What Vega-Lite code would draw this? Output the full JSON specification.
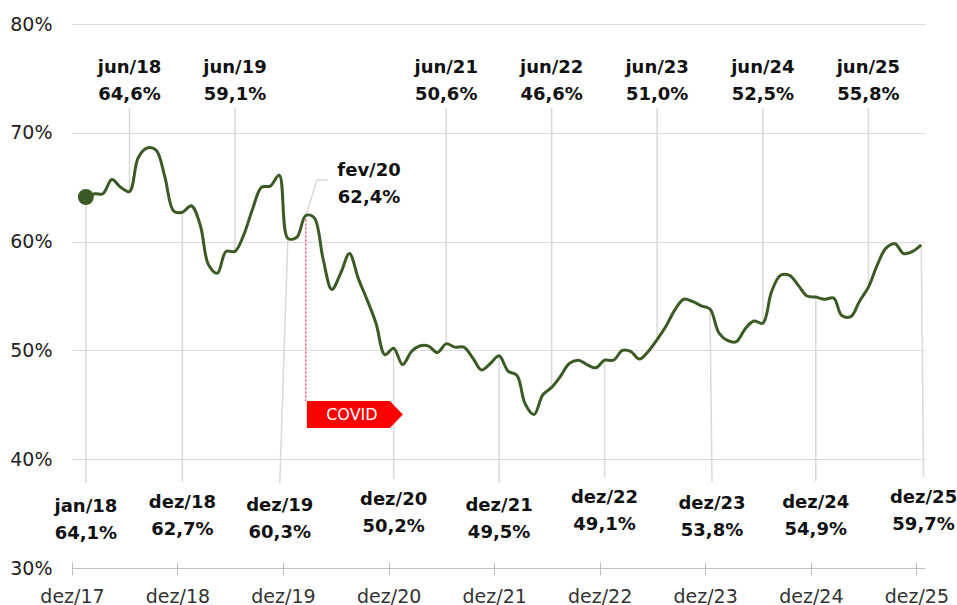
{
  "$schema": "https://vega.github.io/schema/vega-lite/v6.json",
  "width": 853,
  "height": 544,
  "autosize": {"type": "none"},
  "padding": {"left": 72, "top": 24, "right": 32, "bottom": 37},
  "background": "white",
  "config": {"view": {"stroke": null}, "font": "DejaVu Sans"},
  "datasets": {
    "series": [
      {"d": "2018-01-01", "v": 64.1}, {"d": "2018-02-01", "v": 64.4}, {"d": "2018-03-01", "v": 64.4}, {"d": "2018-04-01", "v": 65.7},
      {"d": "2018-05-01", "v": 65.0}, {"d": "2018-06-01", "v": 64.6}, {"d": "2018-07-01", "v": 67.7}, {"d": "2018-08-01", "v": 68.6},
      {"d": "2018-09-01", "v": 68.4}, {"d": "2018-10-01", "v": 66.0}, {"d": "2018-11-01", "v": 62.8}, {"d": "2018-12-01", "v": 62.7},
      {"d": "2019-01-01", "v": 63.3}, {"d": "2019-02-01", "v": 61.5}, {"d": "2019-03-01", "v": 57.9}, {"d": "2019-04-01", "v": 57.1},
      {"d": "2019-05-01", "v": 59.1}, {"d": "2019-06-01", "v": 59.1}, {"d": "2019-07-01", "v": 60.6}, {"d": "2019-08-01", "v": 63.0},
      {"d": "2019-09-01", "v": 65.0}, {"d": "2019-10-01", "v": 65.1}, {"d": "2019-11-01", "v": 66.1}, {"d": "2019-12-01", "v": 60.3},
      {"d": "2020-01-01", "v": 60.4}, {"d": "2020-02-01", "v": 62.4}, {"d": "2020-03-01", "v": 62.2}, {"d": "2020-04-01", "v": 58.4},
      {"d": "2020-05-01", "v": 55.6}, {"d": "2020-06-01", "v": 57.1}, {"d": "2020-07-01", "v": 58.9}, {"d": "2020-08-01", "v": 56.6},
      {"d": "2020-09-01", "v": 54.6}, {"d": "2020-10-01", "v": 52.5}, {"d": "2020-11-01", "v": 49.6}, {"d": "2020-12-01", "v": 50.2},
      {"d": "2021-01-01", "v": 48.7}, {"d": "2021-02-01", "v": 49.9}, {"d": "2021-03-01", "v": 50.4}, {"d": "2021-04-01", "v": 50.4},
      {"d": "2021-05-01", "v": 49.8}, {"d": "2021-06-01", "v": 50.6}, {"d": "2021-07-01", "v": 50.3}, {"d": "2021-08-01", "v": 50.3},
      {"d": "2021-09-01", "v": 49.3}, {"d": "2021-10-01", "v": 48.2}, {"d": "2021-11-01", "v": 48.8}, {"d": "2021-12-01", "v": 49.5},
      {"d": "2022-01-01", "v": 48.1}, {"d": "2022-02-01", "v": 47.7}, {"d": "2022-03-01", "v": 45.1}, {"d": "2022-04-01", "v": 44.1},
      {"d": "2022-05-01", "v": 45.9}, {"d": "2022-06-01", "v": 46.6}, {"d": "2022-07-01", "v": 47.6}, {"d": "2022-08-01", "v": 48.8},
      {"d": "2022-09-01", "v": 49.1}, {"d": "2022-10-01", "v": 48.7}, {"d": "2022-11-01", "v": 48.4}, {"d": "2022-12-01", "v": 49.1},
      {"d": "2023-01-01", "v": 49.1}, {"d": "2023-02-01", "v": 50.0}, {"d": "2023-03-01", "v": 49.9}, {"d": "2023-04-01", "v": 49.2},
      {"d": "2023-05-01", "v": 49.9}, {"d": "2023-06-01", "v": 51.0}, {"d": "2023-07-01", "v": 52.2}, {"d": "2023-08-01", "v": 53.7},
      {"d": "2023-09-01", "v": 54.7}, {"d": "2023-10-01", "v": 54.5}, {"d": "2023-11-01", "v": 54.1}, {"d": "2023-12-01", "v": 53.8},
      {"d": "2024-01-01", "v": 51.6}, {"d": "2024-02-01", "v": 50.9}, {"d": "2024-03-01", "v": 50.8}, {"d": "2024-04-01", "v": 52.0},
      {"d": "2024-05-01", "v": 52.7}, {"d": "2024-06-01", "v": 52.5}, {"d": "2024-07-01", "v": 55.4}, {"d": "2024-08-01", "v": 56.9},
      {"d": "2024-09-01", "v": 56.9}, {"d": "2024-10-01", "v": 56.0}, {"d": "2024-11-01", "v": 55.0}, {"d": "2024-12-01", "v": 54.9},
      {"d": "2025-01-01", "v": 54.7}, {"d": "2025-02-01", "v": 54.8}, {"d": "2025-03-01", "v": 53.2}, {"d": "2025-04-01", "v": 53.1},
      {"d": "2025-05-01", "v": 54.5}, {"d": "2025-06-01", "v": 55.8}, {"d": "2025-07-01", "v": 57.8}, {"d": "2025-08-01", "v": 59.4},
      {"d": "2025-09-01", "v": 59.8}, {"d": "2025-10-01", "v": 58.9}, {"d": "2025-11-01", "v": 59.1}, {"d": "2025-12-01", "v": 59.7}
    ],
    "leaders": [
      {"xa": "2018-06-01", "ya": 72.28, "xb": "2018-06-01", "yb": 64.6},
      {"xa": "2019-06-01", "ya": 72.28, "xb": "2019-06-01", "yb": 59.1},
      {"xa": "2021-06-01", "ya": 72.28, "xb": "2021-06-01", "yb": 50.6},
      {"xa": "2022-06-01", "ya": 72.28, "xb": "2022-06-01", "yb": 46.6},
      {"xa": "2023-06-01", "ya": 72.28, "xb": "2023-06-01", "yb": 51.0},
      {"xa": "2024-06-01", "ya": 72.28, "xb": "2024-06-01", "yb": 52.5},
      {"xa": "2025-06-01", "ya": 72.28, "xb": "2025-06-01", "yb": 55.8},
      {"xa": "2018-01-01", "ya": 64.1, "xb": "2018-01-01", "yb": 37.81},
      {"xa": "2018-12-01", "ya": 62.7, "xb": "2018-12-01", "yb": 37.9},
      {"xa": "2019-12-01", "ya": 60.3, "xb": "2019-11-03", "yb": 37.81},
      {"xa": "2020-12-01", "ya": 50.2, "xb": "2020-12-01", "yb": 38.18},
      {"xa": "2021-12-01", "ya": 49.5, "xb": "2021-12-01", "yb": 37.81},
      {"xa": "2022-12-01", "ya": 49.1, "xb": "2022-12-01", "yb": 38.36},
      {"xa": "2023-12-01", "ya": 53.8, "xb": "2023-12-08", "yb": 37.9},
      {"xa": "2024-12-01", "ya": 54.9, "xb": "2024-12-01", "yb": 38.0},
      {"xa": "2025-12-01", "ya": 59.7, "xb": "2025-12-09", "yb": 38.36},
      {"xa": "2020-02-01", "ya": 62.4, "xb": "2020-03-11", "yb": 65.66},
      {"xa": "2020-03-11", "ya": 65.66, "xb": "2020-04-18", "yb": 65.66}
    ],
    "labels": [
      {"lx": "2018-06-01", "ty": 75.52, "l1": "jun/18", "l2": "64,6%"},
      {"lx": "2019-06-01", "ty": 75.52, "l1": "jun/19", "l2": "59,1%"},
      {"lx": "2021-06-01", "ty": 75.52, "l1": "jun/21", "l2": "50,6%"},
      {"lx": "2022-06-01", "ty": 75.52, "l1": "jun/22", "l2": "46,6%"},
      {"lx": "2023-06-01", "ty": 75.52, "l1": "jun/23", "l2": "51,0%"},
      {"lx": "2024-06-01", "ty": 75.52, "l1": "jun/24", "l2": "52,5%"},
      {"lx": "2025-06-01", "ty": 75.52, "l1": "jun/25", "l2": "55,8%"},
      {"lx": "2020-09-07", "ty": 66.03, "l1": "fev/20", "l2": "62,4%"},
      {"lx": "2018-01-01", "ty": 35.17, "l1": "jan/18", "l2": "64,1%"},
      {"lx": "2018-12-01", "ty": 35.49, "l1": "dez/18", "l2": "62,7%"},
      {"lx": "2019-11-03", "ty": 35.24, "l1": "dez/19", "l2": "60,3%"},
      {"lx": "2020-12-01", "ty": 35.79, "l1": "dez/20", "l2": "50,2%"},
      {"lx": "2021-12-01", "ty": 35.24, "l1": "dez/21", "l2": "49,5%"},
      {"lx": "2022-12-01", "ty": 35.95, "l1": "dez/22", "l2": "49,1%"},
      {"lx": "2023-12-08", "ty": 35.4, "l1": "dez/23", "l2": "53,8%"},
      {"lx": "2024-12-01", "ty": 35.49, "l1": "dez/24", "l2": "54,9%"},
      {"lx": "2025-12-09", "ty": 35.95, "l1": "dez/25", "l2": "59,7%"}
    ],
    "covid": [
      {"d": "2020-02-01", "v": 62.4, "end": 45.35, "ax": "2020-07-20", "ay": 44.11, "label": "COVID"}
    ],
    "dot": [{"d": "2018-01-01", "v": 64.1}]
  },
  "layer": [
    {
      "data": {"name": "series"},
      "mark": {"type": "line", "opacity": 0},
      "encoding": {
        "x": {
          "field": "d", "type": "temporal", "title": null,
          "scale": {"type": "utc", "domain": [{"year": 2017, "month": 11, "date": 14, "utc": true}, {"year": 2025, "month": 12, "date": 14, "utc": true}]},
          "axis": {
            "values": [
              {"year": 2017, "month": 11, "date": 14, "utc": true},
              {"year": 2018, "month": 11, "date": 14, "utc": true},
              {"year": 2019, "month": 11, "date": 14, "utc": true},
              {"year": 2020, "month": 11, "date": 14, "utc": true},
              {"year": 2021, "month": 11, "date": 14, "utc": true},
              {"year": 2022, "month": 11, "date": 14, "utc": true},
              {"year": 2023, "month": 11, "date": 14, "utc": true},
              {"year": 2024, "month": 11, "date": 14, "utc": true},
              {"year": 2025, "month": 11, "date": 14, "utc": true}
            ],
            "labelExpr": "'dez/' + utcFormat(datum.value, '%y')",
            "grid": false,
            "domain": false,
            "tickSize": 13,
            "tickColor": "#bfbfbf",
            "tickWidth": 1,
            "offset": -6,
            "labelFontSize": 19,
            "labelColor": "#333333",
            "labelPadding": 12,
            "labelFlush": false,
            "labelOverlap": false
          }
        },
        "y": {
          "field": "v", "type": "quantitative", "title": null,
          "scale": {"domain": [30, 80], "nice": false, "zero": false},
          "axis": {
            "values": [30, 40, 50, 60, 70, 80],
            "labelExpr": "datum.value + '%'",
            "domain": false,
            "ticks": false,
            "tickSize": 0,
            "labelPadding": 20,
            "grid": true,
            "gridColor": {"condition": {"test": "datum.value === 30", "value": "#bfbfbf"}, "value": "#dcdcdc"},
            "gridWidth": 1,
            "labelFontSize": 19,
            "labelColor": "#222222"
          }
        }
      }
    },
    {
      "data": {"name": "leaders"},
      "mark": {"type": "rule", "color": "#d9d9d9", "strokeWidth": 1.5},
      "encoding": {
        "x": {"field": "xa", "type": "temporal", "title": null},
        "y": {"field": "ya", "type": "quantitative", "title": null},
        "x2": {"field": "xb"},
        "y2": {"field": "yb"}
      }
    },
    {
      "data": {"name": "covid"},
      "mark": {"type": "rule", "color": "#ff0000", "strokeWidth": 1, "strokeDash": [2, 2]},
      "encoding": {
        "x": {"field": "d", "type": "temporal", "title": null},
        "y": {"field": "v", "type": "quantitative", "title": null},
        "y2": {"field": "end"}
      }
    },
    {
      "data": {"name": "series"},
      "mark": {"type": "line", "interpolate": "catmull-rom", "color": "#3b5a24", "strokeWidth": 3},
      "encoding": {
        "x": {"field": "d", "type": "temporal", "title": null},
        "y": {"field": "v", "type": "quantitative", "title": null}
      }
    },
    {
      "data": {"name": "dot"},
      "mark": {"type": "circle", "size": 254, "color": "#3b5a24", "opacity": 1},
      "encoding": {
        "x": {"field": "d", "type": "temporal", "title": null},
        "y": {"field": "v", "type": "quantitative", "title": null}
      }
    },
    {
      "data": {"name": "covid"},
      "mark": {"type": "point", "shape": "M -1 -0.281 L 0.729 -0.281 L 1 0 L 0.729 0.281 L -1 0.281 Z", "size": 9216, "filled": true, "color": "#ff0000", "opacity": 1, "strokeWidth": 0},
      "encoding": {
        "x": {"field": "ax", "type": "temporal", "title": null},
        "y": {"field": "ay", "type": "quantitative", "title": null}
      }
    },
    {
      "data": {"name": "covid"},
      "mark": {"type": "text", "color": "white", "fontSize": 16, "baseline": "middle", "align": "center", "dx": -3, "dy": 1},
      "encoding": {
        "x": {"field": "ax", "type": "temporal", "title": null},
        "y": {"field": "ay", "type": "quantitative", "title": null},
        "text": {"field": "label"}
      }
    },
    {
      "data": {"name": "labels"},
      "mark": {"type": "text", "color": "#111111", "fontSize": 18, "fontWeight": "bold", "baseline": "alphabetic", "align": "center"},
      "encoding": {
        "x": {"field": "lx", "type": "temporal", "title": null},
        "y": {"field": "ty", "type": "quantitative", "title": null},
        "text": {"field": "l1"}
      }
    },
    {
      "data": {"name": "labels"},
      "mark": {"type": "text", "color": "#111111", "fontSize": 18, "fontWeight": "bold", "baseline": "alphabetic", "align": "center", "dy": 27},
      "encoding": {
        "x": {"field": "lx", "type": "temporal", "title": null},
        "y": {"field": "ty", "type": "quantitative", "title": null},
        "text": {"field": "l2"}
      }
    }
  ]
}
